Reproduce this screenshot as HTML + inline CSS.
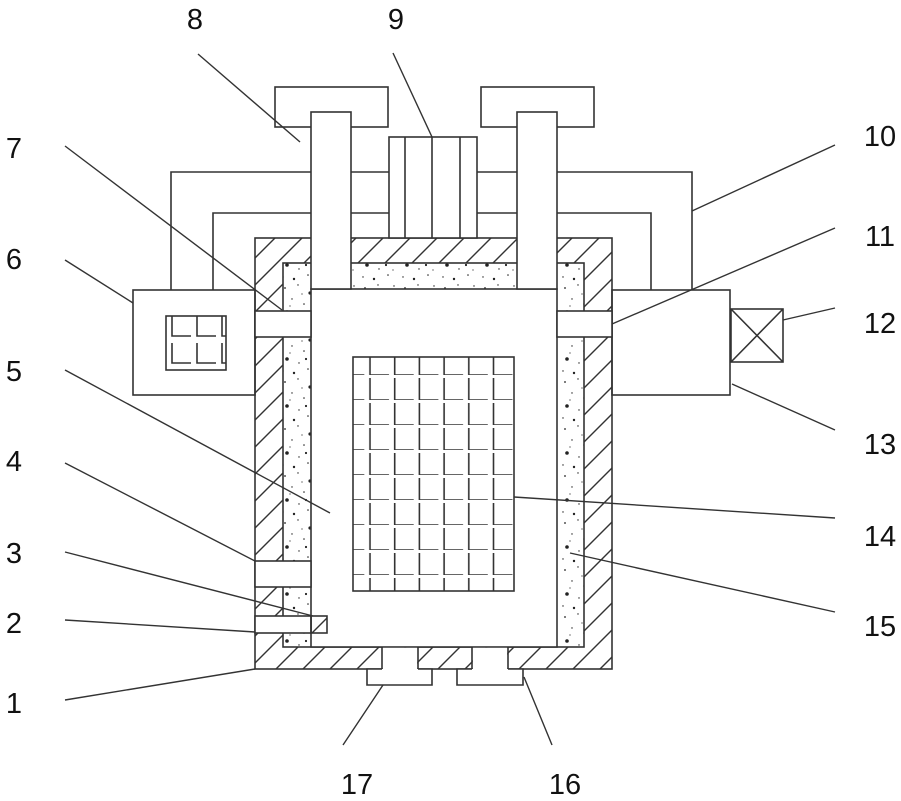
<!DOCTYPE html>
<html><head><meta charset="utf-8"><style>
html,body{margin:0;padding:0;background:#fff;}
svg{display:block}
text{font-family:"Liberation Sans",sans-serif;font-size:29px;fill:#111;text-anchor:middle;}
</style></head><body>
<svg width="901" height="801" viewBox="0 0 901 801" xmlns="http://www.w3.org/2000/svg">
<defs>
<pattern id="h" patternUnits="userSpaceOnUse" width="27" height="27">
<path d="M-2,29 L29,-2" stroke="#333" stroke-width="1.4" fill="none"/>
<path d="M-2,2 L2,-2 M25,29 L29,25" stroke="#333" stroke-width="1.4"/>
</pattern>
<pattern id="d" patternUnits="userSpaceOnUse" width="40" height="47">
<rect width="40" height="47" fill="#fff"/>
<g fill="#222">
<circle cx="5" cy="6" r="0.9"/><circle cx="18" cy="3" r="0.7"/><circle cx="30" cy="11" r="1.6"/>
<circle cx="12" cy="17" r="0.7"/><circle cx="24" cy="22" r="0.8"/><circle cx="36" cy="27" r="0.7"/>
<circle cx="7" cy="30" r="1.8"/><circle cx="19" cy="34" r="0.7"/><circle cx="28" cy="40" r="0.8"/>
<circle cx="3" cy="42" r="0.7"/><circle cx="14" cy="44" r="1.2"/><circle cx="34" cy="4" r="0.7"/>
<circle cx="22" cy="12" r="0.6"/><circle cx="10" cy="24" r="0.6"/>
<circle cx="33" cy="35" r="0.6"/><circle cx="26" cy="30" r="1.1"/>
</g>
</pattern>
<pattern id="g" patternUnits="userSpaceOnUse" x="353" y="350" width="24.7" height="25">
<path d="M17,3 L17,25 L36,25" stroke="#333" stroke-width="1.6" fill="none"/>
<path d="M-7.7,25 L11.3,25" stroke="#333" stroke-width="1.6" fill="none"/>
</pattern>
<pattern id="g2" patternUnits="userSpaceOnUse" x="153" y="313" width="25" height="27">
<path d="M19,3 L19,23 L38,23" stroke="#333" stroke-width="1.6" fill="none"/>
<path d="M-6,23 L13,23" stroke="#333" stroke-width="1.6" fill="none"/>
</pattern>
</defs>
<g stroke="#333" stroke-width="1.6" fill="none">
<path d="M171,290 V172 H692 V290"/>
<path d="M213,290 V213 H651 V290"/>
<rect x="275" y="87" width="113" height="40" fill="#fff"/>
<rect x="481" y="87" width="113" height="40" fill="#fff"/>
<rect x="133" y="290" width="122" height="105" fill="#fff"/>
<rect x="612" y="290" width="118" height="105" fill="#fff"/>
<rect x="166" y="316" width="60" height="54" fill="url(#g2)"/>
<rect x="731" y="309" width="52" height="53" fill="#fff"/>
<path d="M731,309 L783,362 M783,309 L731,362"/>
<rect x="255" y="238" width="357" height="431" fill="url(#h)"/>
<rect x="283" y="263" width="301" height="384" fill="url(#d)"/>
<rect x="311" y="289" width="246" height="358" fill="#fff"/>
<rect x="311" y="112" width="40" height="177" fill="#fff"/>
<rect x="517" y="112" width="40" height="177" fill="#fff"/>
<rect x="389" y="137" width="88" height="101" fill="#fff"/>
<path d="M405,137 V238 M432,137 V238 M460,137 V238"/>
<rect x="255" y="311" width="56" height="26" fill="#fff"/>
<rect x="557" y="311" width="55" height="26" fill="#fff"/>
<rect x="255" y="561" width="56" height="26" fill="#fff"/>
<rect x="255" y="616" width="56" height="17" fill="#fff"/>
<rect x="311" y="616" width="16" height="17" fill="url(#h)"/>
<rect x="382.8" y="647.8" width="34.4" height="22" fill="#fff" stroke="none"/>
<rect x="472.8" y="647.8" width="34.4" height="22" fill="#fff" stroke="none"/>
<path d="M382,647 V669 M418,647 V669 M472,647 V669 M508,647 V669"/>
<path d="M382,669 H367 V685 H432 V669 H418" fill="#fff"/>
<path d="M472,669 H457 V685 H523 V669 H508" fill="#fff"/>
<rect x="353" y="357" width="161" height="234" fill="url(#g)"/>
</g>
<g stroke="#333" stroke-width="1.4">
<line x1="198" y1="54" x2="300" y2="142"/>
<line x1="393" y1="53" x2="432" y2="137"/>
<line x1="835" y1="145" x2="692" y2="211"/>
<line x1="65" y1="146" x2="282" y2="310"/>
<line x1="835" y1="228" x2="612" y2="324"/>
<line x1="65" y1="260" x2="133" y2="303"/>
<line x1="835" y1="308" x2="783" y2="320"/>
<line x1="65" y1="370" x2="330" y2="513"/>
<line x1="835" y1="430" x2="732" y2="384"/>
<line x1="65" y1="463" x2="255" y2="561"/>
<line x1="835" y1="518" x2="514" y2="497"/>
<line x1="65" y1="552" x2="313" y2="616"/>
<line x1="835" y1="612" x2="570" y2="553"/>
<line x1="65" y1="620" x2="255" y2="632"/>
<line x1="65" y1="700" x2="255" y2="669"/>
<line x1="343" y1="745" x2="383" y2="685"/>
<line x1="552" y1="745" x2="524" y2="677"/>
</g>
<text x="195" y="29">8</text>
<text x="396" y="29">9</text>
<text x="880" y="146">10</text>
<text x="14" y="158">7</text>
<text x="880" y="246">11</text>
<text x="14" y="269">6</text>
<text x="880" y="333">12</text>
<text x="14" y="381">5</text>
<text x="880" y="454">13</text>
<text x="14" y="471">4</text>
<text x="880" y="546">14</text>
<text x="14" y="563">3</text>
<text x="880" y="636">15</text>
<text x="14" y="633">2</text>
<text x="14" y="713">1</text>
<text x="357" y="794">17</text>
<text x="565" y="794">16</text>
</svg>
</body></html>
